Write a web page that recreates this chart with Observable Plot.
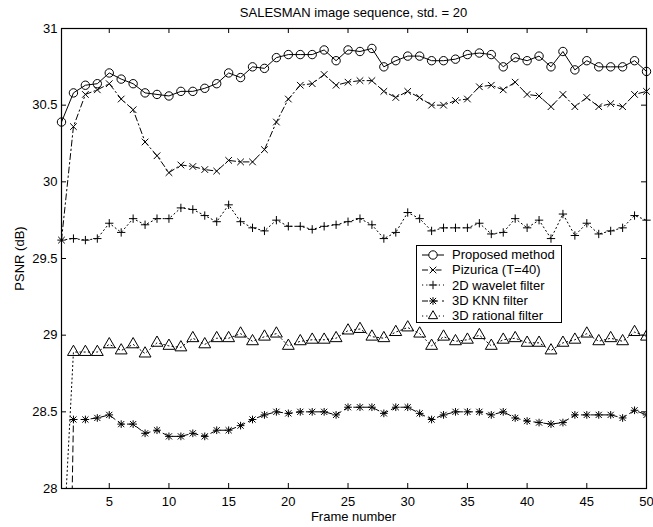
<!DOCTYPE html>
<html>
<head>
<meta charset="utf-8">
<script src="https://cdn.jsdelivr.net/npm/d3@7"></script>
<script src="https://cdn.jsdelivr.net/npm/@observablehq/plot@0.6"></script>
<style>
  body { margin: 0; background: white; }
  #wrap { position: relative; width: 653px; height: 527px; font-family: "Liberation Sans", Arial, sans-serif; font-size: 13px; color: black; }
  #title { position: absolute; left: 61px; width: 585px; top: 5px; text-align: center; line-height: 15px; }
  #xlabel { position: absolute; left: 61px; width: 585px; top: 509px; text-align: center; line-height: 15px; }
  #ylabel { position: absolute; left: 19px; top: 258px; width: 200px; margin-left: -100px; margin-top: -7.5px; text-align: center; line-height: 15px; transform: rotate(-90deg); }
  #legend { position: absolute; left: 416px; top: 245px; width: 144px; height: 75px; border: 1px solid black; background: white; padding-top: 1px; }
  .row { height: 15.3px; display: flex; align-items: center; }
  .row svg { margin-left: 5px; margin-right: 8px; }
</style>
</head>
<body>
<div id="wrap">
  <div id="chart"></div>
  <div id="title"></div>
  <div id="xlabel"></div>
  <div id="ylabel"></div>
  <div id="legend"></div>
</div>
<script>
const titleText = "SALESMAN image sequence, std. = 20";
const xLabel = "Frame number";
const yLabel = "PSNR (dB)";
const frames = d3.range(1, 51);
const xTicks = [5, 10, 15, 20, 25, 30, 35, 40, 45, 50];
const yTicks = [28, 28.5, 29, 29.5, 30, 30.5, 31];
const seriesNames = ["Proposed method", "Pizurica (T=40)", "2D wavelet filter", "3D KNN filter", "3D rational filter"];

const proposed = [30.39,30.58,30.63,30.64,30.71,30.67,30.64,30.58,30.57,30.56,
  30.59,30.59,30.61,30.64,30.71,30.68,30.75,30.74,30.81,30.83,
  30.83,30.83,30.86,30.79,30.86,30.85,30.87,30.75,30.79,30.82,
  30.82,30.79,30.79,30.80,30.83,30.84,30.83,30.75,30.81,30.79,
  30.82,30.75,30.85,30.73,30.79,30.75,30.75,30.75,30.79,30.72];
const pizurica = [29.62,30.36,30.57,30.60,30.64,30.54,30.47,30.26,30.17,30.06,
  30.11,30.10,30.08,30.07,30.14,30.13,30.13,30.21,30.39,30.54,
  30.63,30.64,30.70,30.63,30.65,30.66,30.66,30.59,30.55,30.59,
  30.55,30.50,30.50,30.53,30.54,30.62,30.63,30.60,30.65,30.57,
  30.56,30.49,30.57,30.49,30.55,30.49,30.51,30.49,30.57,30.59];
const wavelet = [29.62,29.63,29.62,29.63,29.73,29.67,29.76,29.72,29.76,29.76,
  29.83,29.82,29.78,29.74,29.85,29.74,29.70,29.68,29.75,29.71,
  29.71,29.69,29.71,29.72,29.74,29.76,29.72,29.63,29.67,29.80,
  29.76,29.68,29.70,29.70,29.70,29.73,29.66,29.67,29.76,29.70,
  29.75,29.63,29.79,29.65,29.73,29.66,29.68,29.70,29.78,29.75];
const knn = [24.0,28.45,28.45,28.46,28.48,28.42,28.42,28.36,28.38,28.34,
  28.34,28.36,28.34,28.38,28.38,28.41,28.45,28.48,28.50,28.49,
  28.50,28.50,28.50,28.48,28.53,28.53,28.53,28.49,28.53,28.53,
  28.49,28.45,28.48,28.50,28.50,28.50,28.48,28.50,28.46,28.44,
  28.43,28.42,28.43,28.48,28.48,28.48,28.48,28.46,28.51,28.48];
const rational = [27.4,28.89,28.89,28.89,28.94,28.90,28.94,28.88,28.95,28.93,
  28.92,28.98,28.94,28.98,28.98,29.01,28.96,28.99,29.01,28.93,
  28.96,28.97,28.97,28.98,29.03,29.04,28.99,28.98,29.02,29.05,
  29.01,28.93,28.99,28.96,28.97,29.00,28.93,28.97,28.98,28.95,
  28.95,28.90,28.95,28.97,29.01,28.96,28.98,28.96,29.02,28.99];

const W = 653, H = 527;
const M = {top: 28, right: 7, bottom: 39, left: 61};
const innerW = W - M.left - M.right, innerH = H - M.top - M.bottom;

const toRows = (vals) => frames.map((f, i) => ({frame: f, v: vals[i]}));
const P = toRows(proposed), Z = toRows(pizurica), Wv = toRows(wavelet), K = toRows(knn), R = toRows(rational);

const styles = [
  {data: P, dash: null, symbols: [{symbol: "circle", r: 4.2}]},
  {data: Z, dash: "6,3,1.5,3", symbols: [{symbol: "times", r: 3.1}]},
  {data: Wv, dash: "1.2,3", symbols: [{symbol: "plus", r: 2.8}]},
  {data: K, dash: "6,4", symbols: [{symbol: "plus", r: 2.6}, {symbol: "times", r: 2.9}]},
  {data: R, dash: "1.2,3", symbols: [{symbol: "triangle", r: 4.4}]}
];

const marks = [];
marks.push(Plot.ruleX(xTicks, {x: d => d, insetTop: innerH - 5, stroke: "black"}));
marks.push(Plot.ruleX(xTicks, {x: d => d, insetBottom: innerH - 5, stroke: "black"}));
marks.push(Plot.ruleY(yTicks, {y: d => d, insetRight: innerW - 5, stroke: "black"}));
marks.push(Plot.ruleY(yTicks, {y: d => d, insetLeft: innerW - 5, stroke: "black"}));
for (const s of styles) {
  marks.push(Plot.line(s.data, {x: "frame", y: "v", stroke: "black", strokeWidth: 1, strokeDasharray: s.dash, clip: true}));
  for (const sym of s.symbols) {
    const clipIt = (s.data === K || s.data === R);
    marks.push(Plot.dot(s.data, {x: "frame", y: "v", symbol: () => sym.symbol, r: sym.r, stroke: "black", fill: "none", strokeWidth: 1, clip: clipIt}));
  }
}
marks.push(Plot.frame({stroke: "black", strokeWidth: 1.2}));

const chart = Plot.plot({
  width: W, height: H,
  marginTop: M.top, marginRight: M.right, marginBottom: M.bottom, marginLeft: M.left,
  style: {fontFamily: "Liberation Sans, Arial, sans-serif", fontSize: "13px", color: "black", background: "white", overflow: "visible"},
  symbol: {type: "identity"},
  x: {domain: [1, 50], ticks: xTicks, tickSize: 0, tickPadding: 8, tickFormat: d => String(d), label: null},
  y: {domain: [28, 31], ticks: yTicks, tickSize: 0, tickPadding: 4, tickFormat: d => String(d), label: null},
  marks
});
document.getElementById("chart").appendChild(chart);
document.getElementById("title").textContent = titleText;
document.getElementById("xlabel").textContent = xLabel;
document.getElementById("ylabel").textContent = yLabel;

// legend
const legend = d3.select("#legend");
const symMap = {circle: d3.symbolCircle, times: d3.symbolTimes, plus: d3.symbolPlus, triangle: d3.symbolTriangle2};
styles.forEach((s, i) => {
  const row = legend.append("div").attr("class", "row");
  const svg = row.append("svg").attr("width", 22).attr("height", 14);
  svg.append("line").attr("x1", 0).attr("x2", 22).attr("y1", 7).attr("y2", 7)
    .attr("stroke", "black").attr("stroke-width", 1)
    .attr("stroke-dasharray", s.dash);
  for (const sym of s.symbols) {
    svg.append("path").attr("transform", "translate(11,7)")
      .attr("d", d3.symbol(symMap[sym.symbol], Math.PI * sym.r * sym.r)())
      .attr("fill", sym.symbol === "circle" || sym.symbol === "triangle" ? "white" : "none")
      .attr("stroke", "black").attr("stroke-width", 1);
  }
  row.append("span").text(seriesNames[i]);
});
</script>
</body>
</html>
